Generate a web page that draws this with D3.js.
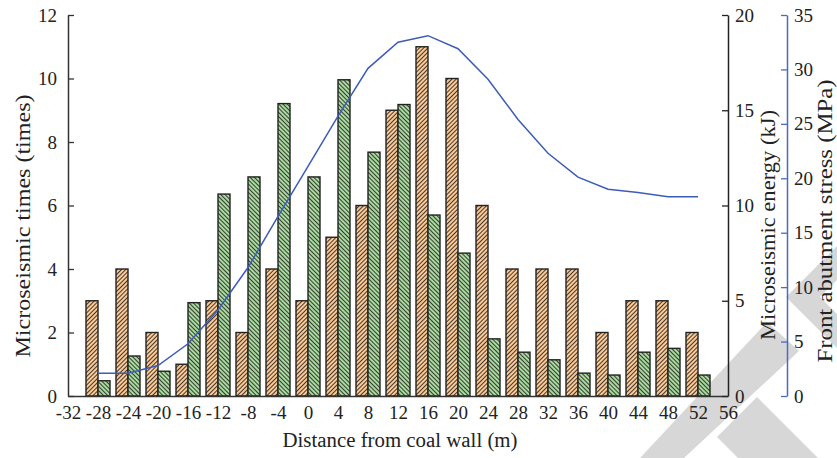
<!DOCTYPE html>
<html><head><meta charset="utf-8">
<script src="https://cdn.jsdelivr.net/npm/d3@7"></script>
<style>
body{margin:0;background:#fff;}
svg{display:block;font-family:"Liberation Serif","Times New Roman",serif;}
</style></head><body>
<svg id="chart" width="837" height="458"></svg>
<script>
// ---- data ----
const categories = [-28,-24,-20,-16,-12,-8,-4,0,4,8,12,16,20,24,28,32,36,40,44,48,52];
const times  = [3,4,2,1,3,2,4,3,5,6,9,11,10,6,4,4,4,2,3,3,2];
const energy = [0.8,2.1,1.3,4.9,10.6,11.5,15.35,11.5,16.6,12.8,15.3,9.5,7.5,3.0,2.3,1.9,1.2,1.1,2.3,2.5,1.1];
const stress = [2.1,2.1,2.8,4.8,7.9,11.8,16.5,21.1,25.7,30.1,32.5,33.1,31.9,29.1,25.4,22.3,20.1,19.0,18.7,18.3,18.3];
const xTickLabels = [-32,-28,-24,-20,-16,-12,-8,-4,0,4,8,12,16,20,24,28,32,36,40,44,48,52,56];
const timesTicks  = [0,2,4,6,8,10,12];
const energyTicks = [0,5,10,15,20];
const stressTicks = [0,5,10,15,20,25,30,35];

// decorative watermark (not data)
const watermark = [
  [[640,458],[767,322],[799,351],[684,458]],
  [[757,397],[818,458],[738,458],[717,437]],
  [[786,297],[837,246],[837,280],[820,297],[837,314],[837,348]]
];

const svg = d3.select('#chart');
const M = {l:68, r:728, t:15, b:396};
const x  = d3.scaleLinear().domain([-32,56]).range([M.l, M.r]);
const yT = d3.scaleLinear().domain([0,12]).range([M.b, M.t]);
const yE = d3.scaleLinear().domain([0,20]).range([M.b, M.t]);
const yS = d3.scaleLinear().domain([0,35]).range([M.b, M.t]);
const bw = (x(4) - x(0)) * 0.4;

// patterns
const defs = svg.append('defs');
function hatch(id, bg, ang){
  const p = defs.append('pattern').attr('id', id).attr('patternUnits','userSpaceOnUse')
    .attr('width',3).attr('height',3).attr('patternTransform',`rotate(${ang})`);
  p.append('rect').attr('width',3).attr('height',3).attr('fill',bg);
  p.append('line').attr('x1',0.5).attr('y1',0).attr('x2',0.5).attr('y2',3)
    .attr('stroke','#2e2822').attr('stroke-width',0.9);
}
hatch('hOrange', '#fbc995', 45);
hatch('hGreen', '#a6dba0', -45);

// watermark
svg.append('g').selectAll('polygon').data(watermark).join('polygon')
  .attr('points', d => d.map(p => p.join(',')).join(' '))
  .attr('fill', '#d7d7d7');

// bars
const data = categories.map((c,i) => ({c, t: times[i], e: energy[i], s: stress[i]}));
const gb = svg.append('g');
gb.selectAll('rect.o').data(data).join('rect').attr('class','o')
  .attr('x', d => x(d.c) - bw).attr('width', bw)
  .attr('y', d => yT(d.t)).attr('height', d => yT(0) - yT(d.t))
  .attr('fill','url(#hOrange)').attr('stroke','#222').attr('stroke-width',1.4);
gb.selectAll('rect.g').data(data).join('rect').attr('class','g')
  .attr('x', d => x(d.c)).attr('width', bw)
  .attr('y', d => yE(d.e)).attr('height', d => yE(0) - yE(d.e))
  .attr('fill','url(#hGreen)').attr('stroke','#222').attr('stroke-width',1.4);

// line
svg.append('path').datum(data)
  .attr('d', d3.line().x(d => x(d.c)).y(d => yS(d.s)))
  .attr('fill','none').attr('stroke','#3d5cb8').attr('stroke-width',1.5);

// axes
function styleAxis(g, col){
  g.select('.domain').attr('stroke', col).attr('stroke-width',1.5);
  g.selectAll('.tick line').attr('stroke', col).attr('stroke-width',1.3);
  g.selectAll('.tick text').attr('fill','#222').attr('font-size',19)
    .attr('font-family','"Liberation Serif","Times New Roman",serif');
}
const gx = svg.append('g').attr('transform',`translate(0,${M.b})`)
  .call(d3.axisBottom(x).tickValues(xTickLabels).tickFormat(d => String(d)).tickSize(0).tickPadding(10));
styleAxis(gx, '#333');
const gl = svg.append('g').attr('transform',`translate(${M.l},0)`)
  .call(d3.axisLeft(yT).tickValues(timesTicks).tickSizeInner(-6).tickSizeOuter(0).tickPadding(11));
styleAxis(gl, '#333');
const ge = svg.append('g').attr('transform',`translate(${M.r},0)`)
  .call(d3.axisRight(yE).tickValues(energyTicks).tickSizeInner(-6).tickSizeOuter(0).tickPadding(7));
styleAxis(ge, '#222');
const gs = svg.append('g').attr('transform',`translate(787,0)`)
  .call(d3.axisRight(yS).tickValues(stressTicks).tickSizeInner(-6).tickSizeOuter(0).tickPadding(7));
styleAxis(gs, '#4a6ac4');

// titles
function title(txt, tx, ty, rot, len){
  svg.append('text').attr('transform',`translate(${tx},${ty}) rotate(${rot})`)
    .attr('text-anchor','middle').attr('dominant-baseline','central')
    .attr('font-size',20).attr('fill','#222')
    .attr('textLength', len).attr('lengthAdjust','spacingAndGlyphs')
    .text(txt);
}
title('Distance from coal wall (m)', 400, 440, 0, 235);
title('Microseismic times (times)', 23, 226, -90, 263);
title('Microseismic energy (kJ)', 768, 225, -90, 230);
title('Front abutment stress (MPa)', 825, 221, -90, 283);
</script>
</body></html>
